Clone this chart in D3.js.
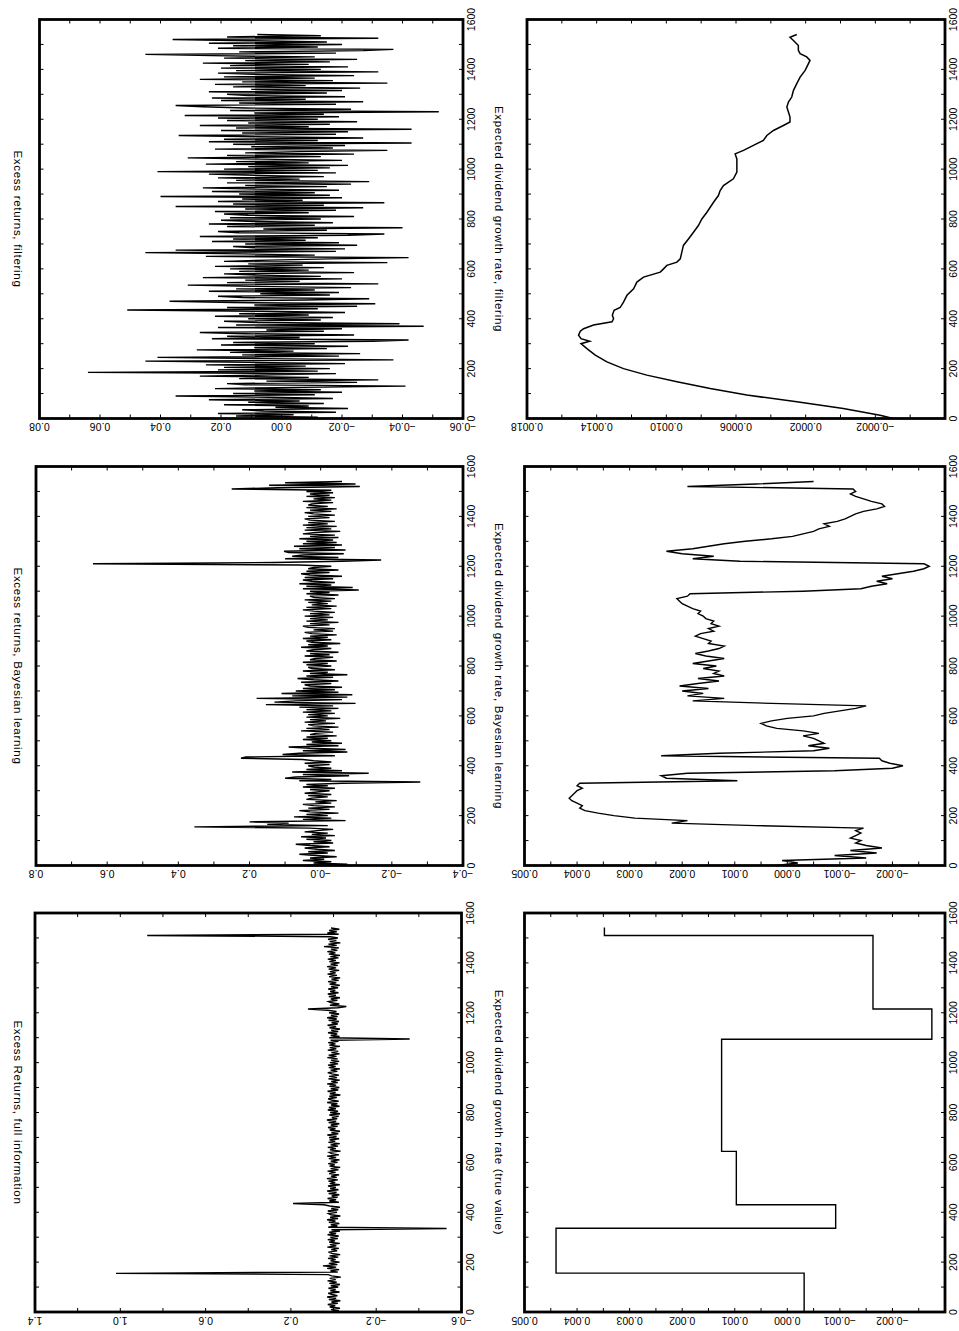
<!DOCTYPE html>
<html lang="en">
<head>
<meta charset="UTF-8">
<title>Excess returns and expected dividend growth</title>
<script src="https://d3js.org/d3.v7.min.js"></script>
<style>
  body { margin: 0; background: #fff; }
  svg { display: block; background: #fff; }
  .frame { fill: none; stroke: #000; stroke-width: 2.8px; }
  .tick { stroke: #000; stroke-width: 1px; }
  .series { fill: none; stroke: #000; stroke-width: 1px; }
  .lab { font-family: "Liberation Sans", Arial, sans-serif; font-size: 10.5px; fill: #000; }
  .title { font-family: "Liberation Sans", Arial, sans-serif; font-size: 11.5px; letter-spacing: 0.7px; fill: #000; }
</style>
</head>
<body>
<svg width="959" height="1331"></svg>
<script>
const svg = d3.select("svg");

// excess returns, filtering (one value every 5 periods)
const retFilter = [
  0.008, -0.012, 0.015, -0.004, 0.021, -0.018, 0.006, 0.013, -0.022, 0.002, -0.009, 0.019, -0.014, 0.011, -0.006, 0.024, -0.017, 0.004, 0.035, -0.011,
  0.016, -0.02, 0.009, -0.013, 0.022, -0.007, -0.041, 0.012, 0.018, -0.025, 0.005, -0.032, 0.014, -0.009, 0.027, 0.003, -0.018, 0.064, -0.012, 0.021,
  -0.016, 0.019, -0.008, 0.025, -0.021, 0.011, 0.045, -0.037, 0.006, 0.041, -0.019, 0.013, -0.026, 0.017, -0.004, 0.028, -0.015, 0.009, -0.022, 0.02,
  -0.011, 0.016, -0.03, -0.042, 0.023, -0.006, 0.018, -0.024, 0.012, 0.027, -0.014, 0.005, -0.02, 0.021, -0.047, 0.015, -0.039, 0.008, 0.019, -0.013,
  0.011, -0.017, 0.022, -0.009, 0.014, -0.021, 0.006, 0.051, -0.012, 0.018, -0.025, 0.009, -0.031, 0.016, 0.037, -0.008, -0.029, 0.013, 0.021, -0.016,
  0.007, -0.019, 0.024, -0.011, 0.015, -0.023, 0.01, 0.031, -0.032, 0.018, -0.006, 0.012, -0.02, 0.026, -0.013, 0.008, 0.019, -0.024, 0.014, -0.009,
  0.017, -0.014, 0.022, -0.007, 0.011, -0.035, 0.019, 0.004, -0.016, -0.042, 0.025, -0.011, 0.013, 0.045, -0.018, 0.035, -0.021, 0.009, 0.016, -0.025,
  0.012, -0.019, 0.023, -0.008, 0.016, -0.012, 0.027, -0.022, -0.034, 0.014, 0.021, -0.015, 0.006, -0.04, 0.018, -0.011, 0.024, -0.017, 0.009, 0.02,
  -0.013, 0.017, -0.024, 0.011, 0.019, -0.009, 0.022, -0.018, 0.012, -0.027, 0.035, -0.014, 0.016, -0.034, 0.021, -0.007, 0.013, -0.02, 0.04, -0.016,
  0.014, -0.011, 0.023, -0.019, 0.008, 0.026, -0.015, 0.012, -0.023, 0.018, -0.029, 0.015, -0.006, 0.021, -0.014, 0.009, 0.024, -0.018, 0.041, -0.012,
  0.019, -0.016, 0.011, -0.022, 0.025, -0.009, 0.015, -0.02, 0.007, 0.031, -0.013, 0.018, -0.024, 0.012, -0.006, -0.035, 0.022, -0.017, 0.01, -0.021,
  0.016, -0.043, 0.024, -0.012, 0.019, -0.027, 0.008, 0.034, -0.018, 0.013, -0.022, 0.02, -0.043, 0.015, -0.009, 0.027, -0.016, 0.011, -0.025, 0.018,
  -0.012, 0.021, -0.019, 0.032, -0.014, 0.009, -0.052, 0.017, -0.023, 0.012, 0.026, 0.035, -0.018, 0.014, -0.027, 0.02, -0.008, 0.023, -0.021, 0.011,
  0.018, -0.015, 0.024, -0.02, 0.01, -0.026, 0.016, -0.008, 0.022, -0.035, 0.013, -0.017, 0.027, -0.011, 0.019, -0.024, 0.009, 0.021, -0.032, 0.015,
  -0.013, 0.02, -0.022, 0.017, -0.009, 0.026, -0.016, 0.012, -0.025, 0.019, -0.011, 0.023, 0.045, -0.018, 0.014, -0.027, -0.037, 0.021, -0.012, 0.016,
  -0.02, 0.024, -0.015, 0.011, 0.036, -0.032, 0.018, -0.013, 0.008
];

// excess returns, Bayesian learning (every 5 periods)
const retBayes = [
  0.04, -0.075, 0.02, -0.03, 0.05, -0.01, 0.03, -0.045, 0.015, 0.06, -0.02, 0.035, -0.04, 0.01, 0.045, -0.025, 0.03, 0.07, -0.035, 0.02,
  -0.03, 0.04, -0.015, 0.055, -0.04, 0.025, -0.02, 0.045, 0.01, -0.035, 0.03, 0.355, -0.02, 0.15, 0.09, 0.2, -0.07, 0.05, -0.03, 0.075,
  -0.02, 0.04, -0.05, 0.03, 0.06, -0.025, 0.035, -0.04, 0.02, 0.05, -0.03, 0.015, -0.045, 0.04, 0.025, -0.02, 0.035, -0.03, 0.045, 0.01,
  -0.025, 0.03, -0.04, 0.05, -0.02, 0.04, -0.06, -0.28, 0.06, -0.03, 0.1, 0.07, -0.08, 0.05, -0.135, 0.08, -0.06, 0.04, -0.03, 0.02,
  0.035, -0.025, 0.045, -0.03, 0.02, 0.05, 0.224, 0.21, -0.04, 0.107, 0.06, -0.075, 0.05, -0.07, 0.03, 0.09, -0.05, 0.04, -0.06, 0.025,
  -0.03, 0.05, -0.02, 0.04, -0.045, 0.03, 0.015, -0.035, 0.055, -0.025, 0.04, -0.05, 0.02, 0.035, -0.04, 0.045, -0.015, 0.03, -0.055, 0.04,
  -0.02, 0.035, -0.04, 0.05, -0.03, 0.04, -0.05, 0.06, -0.035, 0.154, -0.098, 0.13, 0.07, -0.06, 0.18, -0.075, 0.08, -0.089, 0.11, -0.05,
  0.07, -0.04, 0.05, -0.06, 0.03, 0.045, -0.03, 0.055, -0.05, 0.02, 0.065, -0.035, 0.04, -0.075, 0.03, -0.02, 0.05, -0.04, 0.025, 0.035,
  -0.03, 0.04, -0.02, 0.05, -0.045, 0.03, 0.015, -0.035, 0.045, -0.025, 0.03, -0.05, 0.04, 0.02, -0.03, 0.055, -0.02, 0.035, -0.055, 0.025,
  0.04, -0.03, 0.05, -0.02, 0.03, -0.045, 0.025, 0.045, -0.035, 0.02, -0.04, 0.035, 0.05, -0.025, 0.03, -0.05, 0.04, -0.02, 0.03, -0.035,
  0.045, -0.025, 0.03, -0.04, 0.02, 0.05, -0.03, 0.04, -0.045, 0.025, -0.02, 0.035, -0.03, 0.045, -0.04, 0.02, 0.03, -0.05, 0.04, -0.025,
  0.03, -0.107, 0.05, -0.09, 0.04, -0.03, 0.06, -0.04, 0.025, 0.05, -0.035, 0.045, -0.06, 0.03, 0.055, -0.025, 0.04, -0.05, 0.035, 0.02,
  -0.03, 0.06, 0.64, 0.13, -0.06, -0.17, 0.1, -0.05, 0.08, 0.05, -0.065, 0.09, 0.103, -0.07, 0.06, -0.04, 0.075, -0.06, 0.05, -0.045,
  0.04, -0.035, 0.06, -0.05, 0.03, -0.04, 0.05, 0.02, -0.055, 0.045, -0.03, 0.04, -0.045, 0.05, -0.02, 0.035, -0.04, 0.03, 0.045, -0.025,
  0.035, -0.04, 0.02, 0.045, -0.03, 0.03, -0.045, 0.04, -0.02, 0.035, 0.025, -0.035, 0.05, -0.03, 0.02, -0.04, 0.04, -0.025, 0.03, -0.035,
  0.04, -0.03, 0.25, 0.12, -0.11, 0.145, -0.098, 0.1, -0.06
];

// excess returns, full information (every 5 periods)
const retFull = [
  0.02, -0.025, 0.012, -0.03, 0.018, -0.008, 0.027, -0.02, 0.01, -0.032, 0.022, -0.012, 0.03, -0.018, 0.006, 0.025, -0.028, 0.015, -0.01, 0.024,
  -0.022, 0.013, -0.03, 0.02, -0.015, 0.028, -0.01, 0.018, -0.034, 0.009, 0.025, 1.02, -0.02, 0.015, -0.026, 0.03, -0.012, 0.05, -0.018, 0.022,
  -0.028, 0.014, -0.01, 0.026, -0.022, 0.019, -0.031, 0.008, 0.024, -0.017, 0.011, -0.025, 0.029, -0.013, 0.017, -0.029, 0.021, -0.007, 0.027, -0.02,
  0.015, -0.024, 0.028, -0.012, 0.02, -0.03, 0.01, -0.53, 0.025, -0.018, 0.013, -0.027, 0.022, -0.009, 0.03, -0.021, 0.016, -0.032, 0.012, 0.024,
  -0.016, 0.027, -0.022, 0.011, -0.03, 0.018, 0.045, 0.19, -0.025, 0.02, -0.012, 0.028, -0.019, 0.009, -0.027, 0.023, -0.014, 0.03, -0.023, 0.016,
  -0.011, 0.026, -0.029, 0.018, -0.008, 0.024, -0.02, 0.031, -0.015, 0.012, -0.026, 0.021, -0.01, 0.028, -0.023, 0.014, -0.031, 0.019, -0.006, 0.025,
  -0.019, 0.013, -0.028, 0.022, -0.012, 0.03, -0.025, 0.009, 0.02, -0.033, 0.017, -0.011, 0.027, -0.021, 0.014, -0.029, 0.024, -0.008, 0.019, -0.026,
  0.021, -0.014, 0.029, -0.022, 0.01, -0.03, 0.018, -0.009, 0.026, -0.019, 0.013, -0.027, 0.023, -0.012, 0.031, -0.017, 0.008, -0.024, 0.02, -0.03,
  0.016, -0.021, 0.027, -0.011, 0.022, -0.028, 0.012, -0.018, 0.03, -0.024, 0.009, 0.025, -0.015, 0.02, -0.032, 0.017, -0.01, 0.028, -0.022, 0.013,
  -0.027, 0.019, -0.012, 0.03, -0.02, 0.011, -0.029, 0.024, -0.016, 0.021, -0.025, 0.008, 0.027, -0.018, 0.014, -0.03, 0.022, -0.01, 0.026, -0.021,
  0.017, -0.026, 0.012, -0.019, 0.029, -0.014, 0.023, -0.028, 0.01, -0.022, 0.027, -0.013, 0.018, -0.03, 0.02, -0.009, 0.025, -0.023, 0.014, -0.357,
  0.02, -0.028, 0.013, -0.017, 0.026, -0.022, 0.011, -0.03, 0.019, -0.012, 0.028, -0.02, 0.009, -0.025, 0.023, -0.015, 0.03, -0.019, 0.012, -0.026,
  0.021, -0.014, 0.028, 0.12, -0.02, -0.06, 0.017, -0.027, 0.01, 0.024, -0.018, 0.013, -0.03, 0.022, -0.011, 0.027, -0.023, 0.016, -0.008, 0.025,
  -0.021, 0.012, -0.029, 0.019, -0.013, 0.026, -0.024, 0.01, -0.031, 0.021, -0.016, 0.028, -0.01, 0.017, -0.026, 0.023, -0.012, 0.03, -0.02, 0.014,
  -0.028, 0.02, -0.011, 0.027, -0.023, 0.015, -0.03, 0.022, -0.009, 0.029, -0.018, 0.012, -0.025, 0.045, -0.015, 0.024, -0.032, 0.018, -0.013, 0.026,
  -0.02, 0.014, 0.874, -0.024, 0.029, -0.015, 0.021, -0.027, 0.012
];

// expected dividend growth, filtering (read at uneven periods)
const growthFilterT = [0, 13, 40, 67, 94, 120, 147, 174, 200, 227, 254, 280, 300, 310, 320, 334, 350, 360, 375, 388,
  400, 414, 434, 445, 467, 494, 520, 547, 567, 587, 600, 614, 627, 640, 667, 694, 720, 747, 774, 800,
  827, 847, 867, 894, 914, 934, 961, 988, 1014, 1041, 1061, 1075, 1095, 1115, 1135, 1155, 1175, 1189, 1209, 1229,
  1249, 1269, 1289, 1316, 1343, 1369, 1396, 1423, 1436, 1450, 1463, 1476, 1496, 1516, 1529, 1540];
const growthFilterV = [-0.000303, -0.000227, -0.000016, 0.000251, 0.000538, 0.000748, 0.000939, 0.001112, 0.001246, 0.001341,
  0.001408, 0.001456, 0.00149, 0.00144, 0.00149, 0.001504, 0.001494, 0.001475, 0.001418, 0.001312,
  0.001303, 0.00131, 0.0013, 0.001265, 0.001246, 0.001226, 0.001188, 0.001169, 0.001131, 0.001035,
  0.001016, 0.000997, 0.000939, 0.00092, 0.000911, 0.000902, 0.000873, 0.000844, 0.000816, 0.000796,
  0.000767, 0.000748, 0.000729, 0.000701, 0.000691, 0.000672, 0.000615, 0.000595, 0.000595, 0.000595,
  0.000605, 0.000557, 0.0005, 0.000443, 0.000423, 0.000385, 0.000328, 0.00029, 0.00029, 0.000299,
  0.000308, 0.000299, 0.00028, 0.00027, 0.000251, 0.000232, 0.000203, 0.000184, 0.000175, 0.000194,
  0.000232, 0.000242, 0.000242, 0.00027, 0.00029, 0.000251];

// expected dividend growth, Bayesian learning (every 10 periods)
const growthBayes = [
  0.0002, -0.0002, 0.0001, -0.0015, -0.0009, -0.0017, -0.0012, -0.0018, -0.0015, -0.0013,
  -0.0014, -0.0012, -0.0013, -0.0014, -0.0013, -0.00145, 0.0006, 0.0022, 0.0019, 0.0029,
  0.0033, 0.0036, 0.00385, 0.00395, 0.0039, 0.004, 0.0041, 0.00415, 0.0041, 0.00405,
  0.004, 0.0039, 0.004, 0.00395, 0.00095, 0.0023, 0.0024, 0.0019, -0.0009, -0.002,
  -0.0022, -0.00195, -0.0018, -0.00175, 0.0024, 0.0013, -0.0005, -0.0008, -0.0004, -0.0007,
  -0.0006, -0.0005, -0.0003, -0.0006, -0.0003, 0.0002, 0.0004, 0.0005, 0.0003, 0.0,
  -0.0005, -0.0007, -0.001, -0.0013, -0.0015, 0.0003, 0.0018, 0.0012, 0.0019, 0.0016,
  0.002, 0.0015, 0.00205, 0.0017, 0.0013, 0.0017, 0.0012, 0.0014, 0.0013, 0.0016,
  0.00135, 0.0018, 0.0015, 0.0012, 0.00155, 0.00175, 0.0015, 0.0013, 0.0012, 0.0015,
  0.00145, 0.0016, 0.00175, 0.00165, 0.0014, 0.0015, 0.0013, 0.00145, 0.0014, 0.00155,
  0.0016, 0.0017, 0.00165, 0.0018, 0.0019, 0.002, 0.00205, 0.0021, 0.0019, 0.00185,
  -0.0003, -0.0014, -0.0016, -0.0019, -0.0017, -0.002, -0.0018, -0.0021, -0.0024, -0.0026,
  -0.0027, -0.0026, 0.0009, 0.0018, 0.0014, 0.002, 0.0023, 0.0018, 0.0015, 0.0012,
  0.0008, 0.0003, -0.0001, -0.0003, -0.0005, -0.0006, -0.0008, -0.0007, -0.00095, -0.0011,
  -0.0012, -0.0013, -0.00145, -0.0017, -0.00185, -0.0018, -0.0016, -0.00145, -0.0013, -0.0012,
  -0.0013, -0.00125, 0.0019, 0.0006, -0.0005
];

// expected dividend growth, true value: regime start periods and levels
const regimeStart = [0, 156, 336, 430, 644, 1094, 1215, 1510];
const regimeLevel = [-0.00032, 0.0044, -0.00092, 0.00097, 0.00125, -0.00275, -0.00163, 0.00348];
const lastPeriod = 1542;

// tick labels
const timeLabels = [0, 200, 400, 600, 800, 1000, 1200, 1400, 1600];
const retFilterLabels = ["0.08", "0.06", "0.04", "0.02", "0.00", "-0.02", "-0.04", "-0.06"];
const retBayesLabels = ["0.8", "0.6", "0.4", "0.2", "-0.0", "-0.2", "-0.4"];
const retFullLabels = ["1.4", "1.0", "0.6", "0.2", "-0.2", "-0.6"];
const growthFilterLabels = ["0.0018", "0.0014", "0.0010", "0.0006", "0.0002", "-0.0002"];
const growthLabels = ["0.005", "0.004", "0.003", "0.002", "0.001", "0.000", "-0.001", "-0.002"];

const every = (arr, step) => arr.map((v, i) => ({ t: i * step, v: v }));

const stepPoints = regimeStart.map((t, i) => ({ t: t, v: regimeLevel[i] }))
  .concat([{ t: lastPeriod, v: regimeLevel[regimeLevel.length - 1] }]);

const panels = [
  { title: "Excess returns, filtering", box: [39.5, 463, 19.5, 418.5], domain: [0.08, -0.06], nTicks: 14,
    labels: retFilterLabels, points: every(retFilter, 5), curve: d3.curveLinear, width: 1.4 },
  { title: "Expected dividend growth rate, filtering", box: [527, 945, 19.5, 418.5], domain: [0.0018, -0.0006], nTicks: 12,
    labels: growthFilterLabels, points: growthFilterT.map((t, i) => ({ t: t, v: growthFilterV[i] })), curve: d3.curveLinear, width: 1.5 },
  { title: "Excess returns, Bayesian learning", box: [36, 463, 466.5, 865.5], domain: [0.8, -0.4], nTicks: 12,
    labels: retBayesLabels, points: every(retBayes, 5), curve: d3.curveLinear, width: 1.4 },
  { title: "Expected dividend growth rate, Bayesian learning", box: [524.5, 945, 466.5, 865.5], domain: [0.005, -0.003], nTicks: 16,
    labels: growthLabels, points: every(growthBayes, 10), curve: d3.curveLinear, width: 1.4 },
  { title: "Excess Returns, full information", box: [35, 461.5, 913, 1312], domain: [1.4, -0.6], nTicks: 10,
    labels: retFullLabels, points: every(retFull, 5), curve: d3.curveLinear, width: 1.4 },
  { title: "Expected dividend growth rate (true value)", box: [524.5, 945, 913, 1312], domain: [0.005, -0.003], nTicks: 16,
    labels: growthLabels, points: stepPoints, curve: d3.curveStepBefore, width: 1.4 }
];

panels.forEach(p => {
  const [x0, x1, y0, y1] = p.box;
  const x = d3.scaleLinear().domain(p.domain).range([x0, x1]);
  const y = d3.scaleLinear().domain([0, 1600]).range([y1, y0]);
  const g = svg.append("g");

  const line = d3.line().x(d => x(d.v)).y(d => y(d.t)).curve(p.curve);
  g.append("path")
    .datum(p.points)
    .attr("class", "series")
    .style("stroke-width", p.width)
    .attr("d", line);

  // inward ticks on all four sides
  const vt = x.ticks(p.nTicks);
  g.selectAll(".vtop").data(vt).enter().append("line")
    .attr("class", "tick")
    .attr("x1", d => x(d)).attr("x2", d => x(d))
    .attr("y1", y0).attr("y2", y0 + 4);
  g.selectAll(".vbot").data(vt).enter().append("line")
    .attr("class", "tick")
    .attr("x1", d => x(d)).attr("x2", d => x(d))
    .attr("y1", y1).attr("y2", y1 - 4);
  const tt = y.ticks(16);
  g.selectAll(".tl").data(tt).enter().append("line")
    .attr("class", "tick")
    .attr("x1", x0).attr("x2", x0 + 4)
    .attr("y1", d => y(d)).attr("y2", d => y(d));
  g.selectAll(".tr").data(tt).enter().append("line")
    .attr("class", "tick")
    .attr("x1", x1).attr("x2", x1 - 4)
    .attr("y1", d => y(d)).attr("y2", d => y(d));

  g.append("rect")
    .attr("class", "frame")
    .attr("x", x0).attr("y", y0)
    .attr("width", x1 - x0).attr("height", y1 - y0);

  // value labels, upside down under the frame
  g.selectAll(".vlab").data(p.labels).enter().append("text")
    .attr("class", "lab")
    .attr("text-anchor", "middle")
    .attr("dominant-baseline", "central")
    .attr("transform", d => `translate(${x(+d)},${y1 + 8.5}) rotate(180)`)
    .text(d => d.replace("-", "\u2212"));

  // time labels on the right, reading upward
  g.selectAll(".tlab").data(timeLabels).enter().append("text")
    .attr("class", "lab")
    .attr("text-anchor", "middle")
    .attr("dominant-baseline", "central")
    .attr("transform", d => `translate(${x1 + 8},${y(d)}) rotate(-90)`)
    .text(d => d);

  // title down the left side
  const tx = x0 < 300 ? 17.5 : 499;
  g.append("text")
    .attr("class", "title")
    .attr("text-anchor", "middle")
    .attr("dominant-baseline", "central")
    .attr("transform", `translate(${tx},${(y0 + y1) / 2}) rotate(90)`)
    .text(p.title);
});
</script>
</body>
</html>
